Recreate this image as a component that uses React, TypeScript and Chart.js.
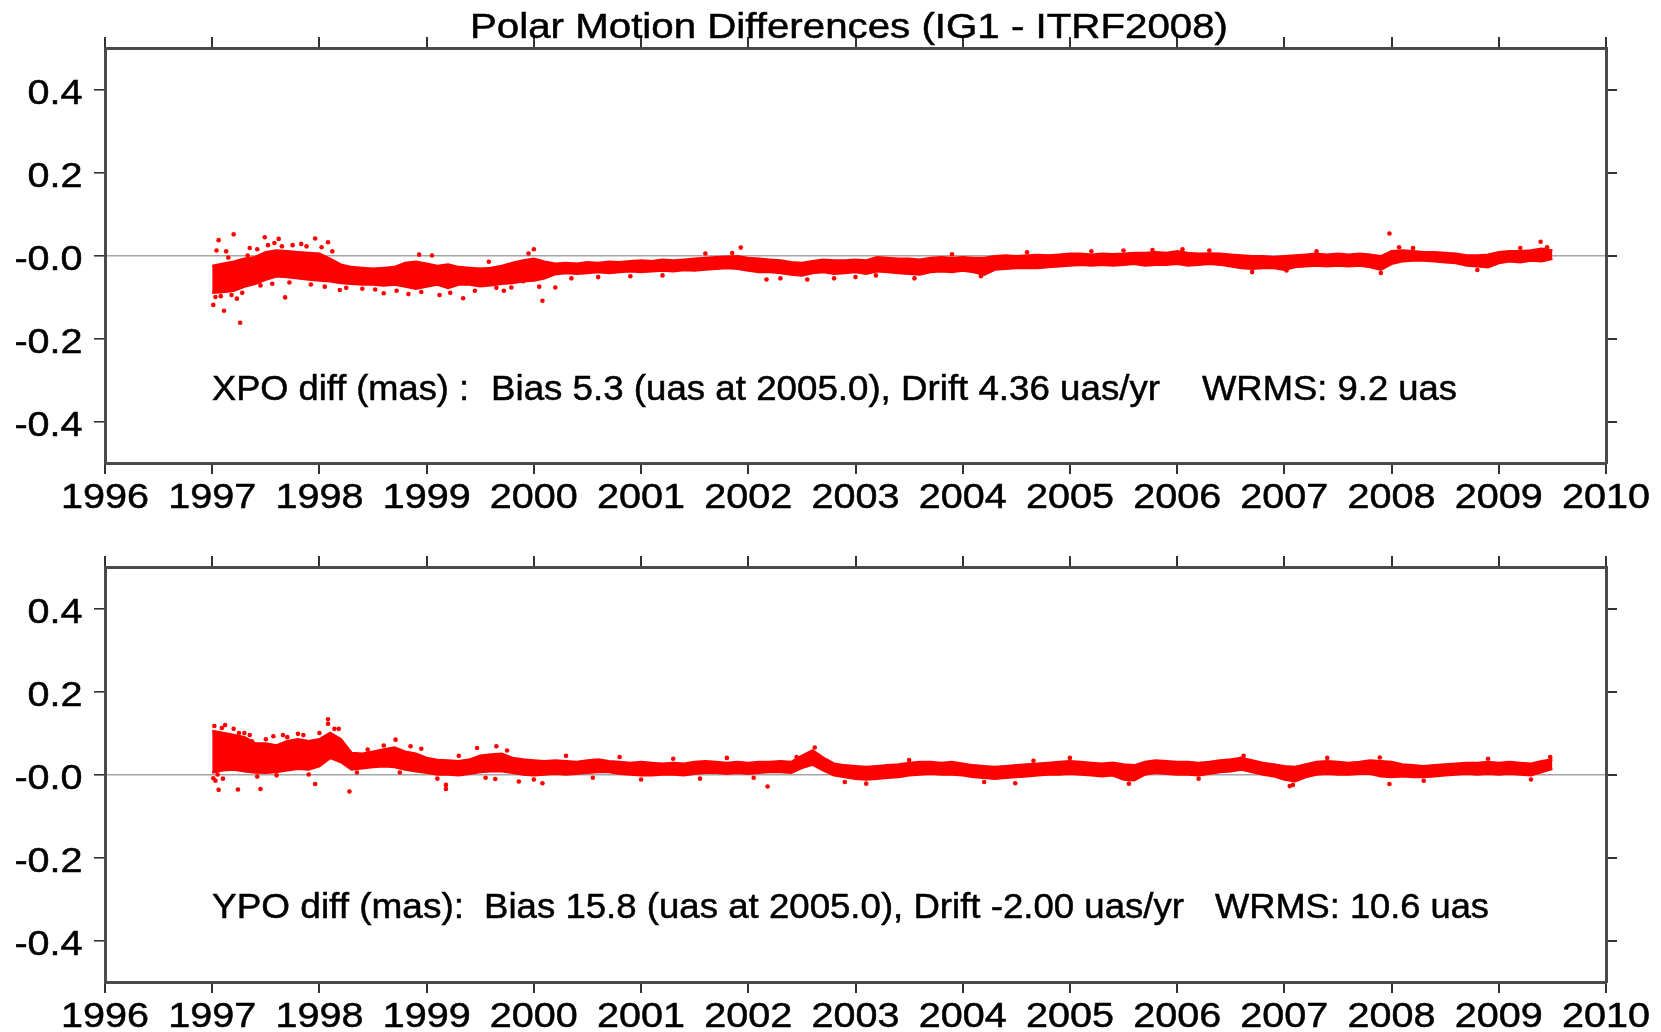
import React, { useEffect, useRef } from 'react';
import { Chart, registerables } from 'chart.js';

Chart.register(...registerables);

const TITLE = 'Polar Motion Differences (IG1 - ITRF2008)';
const X_TICKS = [1996, 1997, 1998, 1999, 2000, 2001, 2002, 2003, 2004, 2005, 2006, 2007, 2008, 2009, 2010];
const X_LABELS = ['1996', '1997', '1998', '1999', '2000', '2001', '2002', '2003', '2004', '2005', '2006', '2007', '2008', '2009', '2010'];
const Y_TICKS = [-0.4, -0.2, 0, 0.2, 0.4];
const Y_LABELS = ['-0.4', '-0.2', '-0.0', '0.2', '0.4'];

const TIMES = [
  1997.0, 1997.1, 1997.2, 1997.3, 1997.4, 1997.5, 1997.6, 1997.7, 1997.8, 1997.9,
  1998.0, 1998.1, 1998.2, 1998.3, 1998.4, 1998.5, 1998.6, 1998.7, 1998.8, 1998.9,
  1999.0, 1999.1, 1999.2, 1999.3, 1999.4, 1999.5, 1999.6, 1999.7, 1999.8, 1999.9,
  2000.0, 2000.1, 2000.2, 2000.3, 2000.4, 2000.5, 2000.6, 2000.7, 2000.8, 2000.9,
  2001.0, 2001.1, 2001.2, 2001.3, 2001.4, 2001.5, 2001.6, 2001.7, 2001.8, 2001.9,
  2002.0, 2002.1, 2002.2, 2002.3, 2002.4, 2002.5, 2002.6, 2002.7, 2002.8, 2002.9,
  2003.0, 2003.1, 2003.2, 2003.3, 2003.4, 2003.5, 2003.6, 2003.7, 2003.8, 2003.9,
  2004.0, 2004.1, 2004.2, 2004.3, 2004.4, 2004.5, 2004.6, 2004.7, 2004.8, 2004.9,
  2005.0, 2005.1, 2005.2, 2005.3, 2005.4, 2005.5, 2005.6, 2005.7, 2005.8, 2005.9,
  2006.0, 2006.1, 2006.2, 2006.3, 2006.4, 2006.5, 2006.6, 2006.7, 2006.8, 2006.9,
  2007.0, 2007.1, 2007.2, 2007.3, 2007.4, 2007.5, 2007.6, 2007.7, 2007.8, 2007.9,
  2008.0, 2008.1, 2008.2, 2008.3, 2008.4, 2008.5, 2008.6, 2008.7, 2008.8, 2008.9,
  2009.0, 2009.1, 2009.2, 2009.3, 2009.4, 2009.5,
];

// XPO difference (mas): lower / upper edge of the dense point cloud
const XPO_LO = [
  -0.090, -0.088, -0.085, -0.075, -0.068, -0.058, -0.050, -0.052, -0.055, -0.058,
  -0.060, -0.062, -0.066, -0.068, -0.070, -0.070, -0.072, -0.070, -0.075, -0.080,
  -0.075, -0.070, -0.078, -0.070, -0.070, -0.074, -0.072, -0.068, -0.066, -0.062,
  -0.060, -0.055, -0.045, -0.042, -0.044, -0.042, -0.040, -0.042, -0.040, -0.038,
  -0.040, -0.038, -0.036, -0.038, -0.035, -0.036, -0.034, -0.032, -0.030, -0.032,
  -0.036, -0.040, -0.040, -0.042, -0.046, -0.048, -0.042, -0.040, -0.044, -0.042,
  -0.040, -0.044, -0.038, -0.040, -0.042, -0.044, -0.046, -0.040, -0.038, -0.040,
  -0.036, -0.040, -0.046, -0.034, -0.032, -0.030, -0.030, -0.030, -0.028, -0.026,
  -0.024, -0.022, -0.024, -0.022, -0.024, -0.022, -0.020, -0.024, -0.022, -0.022,
  -0.020, -0.024, -0.022, -0.020, -0.022, -0.026, -0.030, -0.032, -0.030, -0.030,
  -0.034, -0.028, -0.026, -0.024, -0.026, -0.024, -0.026, -0.024, -0.028, -0.034,
  -0.020, -0.014, -0.012, -0.012, -0.014, -0.016, -0.018, -0.024, -0.026, -0.028,
  -0.018, -0.014, -0.016, -0.012, -0.014, -0.008,
];
const XPO_HI = [
  -0.025, -0.020, -0.015, -0.008, -0.004, 0.008, 0.012, 0.010, 0.008, 0.006,
  0.004, -0.008, -0.022, -0.028, -0.030, -0.032, -0.030, -0.028, -0.018, -0.015,
  -0.020, -0.025, -0.022, -0.028, -0.030, -0.032, -0.030, -0.025, -0.018, -0.012,
  -0.008, -0.015, -0.020, -0.018, -0.020, -0.016, -0.018, -0.015, -0.016, -0.014,
  -0.012, -0.014, -0.010, -0.012, -0.010, -0.008, -0.006, -0.004, -0.003, -0.002,
  -0.006, -0.008, -0.010, -0.012, -0.016, -0.018, -0.014, -0.010, -0.012, -0.012,
  -0.010, -0.012, -0.004, -0.006, -0.008, -0.008, -0.010, -0.006, -0.004, -0.006,
  -0.004, -0.006, -0.006, -0.002, 0.000, -0.002, 0.000, 0.001, 0.000, 0.002,
  0.004, 0.004, 0.002, 0.004, 0.003, 0.004, 0.006, 0.006, 0.008, 0.006,
  0.010, 0.006, 0.004, 0.005, 0.004, 0.002, 0.000, -0.002, -0.002, -0.004,
  -0.002, 0.000, 0.002, 0.004, 0.002, 0.004, 0.002, 0.004, 0.002, -0.002,
  0.010, 0.012, 0.010, 0.008, 0.008, 0.006, 0.004, 0.000, 0.000, 0.002,
  0.008, 0.010, 0.010, 0.012, 0.016, 0.012,
];
// scattered XPO points away from the dense band
const XPO_OUT_T = [
  1997.01, 1997.11, 1997.26, 1997.06, 1997.20, 1997.23, 1997.68, 1997.56, 1997.49, 1997.62,
  1997.96, 1998.08, 1998.19, 1998.60, 1998.83, 1999.12, 1999.34, 1999.65, 1999.79, 2000.08,
  2000.20, 2000.00, 1998.93, 2001.93, 2002.17, 1999.90, 2003.19, 2004.17, 2007.98, 2009.39,
  2005.77, 2006.05, 2008.07, 2007.02, 1997.04, 1997.15, 1997.35, 1997.75, 1997.88, 1998.02,
  1997.03, 1997.08, 1997.13, 1997.18, 1997.28, 1997.33, 1997.42, 1997.45, 1997.52, 1997.58,
  1997.65, 1997.72, 1997.83, 1997.92, 1998.05, 1998.12, 1998.25, 1998.40, 1998.52, 1998.72,
  1998.95, 1999.05, 1999.22, 1999.45, 1999.58, 1999.72, 1999.95, 2000.05, 2000.35, 2000.60,
  2000.90, 2001.20, 2001.60, 2001.85, 2002.30, 2002.55, 2002.80, 2003.00, 2003.55, 2003.90,
  2004.60, 2005.20, 2005.50, 2006.30, 2006.70, 2007.30, 2007.90, 2008.20, 2008.80, 2009.20,
  2009.45,
];
const XPO_OUT_V = [
  -0.119, -0.133, -0.162, 0.037, 0.051, -0.104, -0.101, -0.068, 0.044, 0.040,
  0.041, 0.032, -0.083, -0.091, -0.093, -0.095, -0.103, -0.078, -0.077, -0.109,
  -0.077, 0.015, 0.002, 0.019, -0.058, -0.062, -0.048, -0.050, 0.053, 0.033,
  0.013, 0.015, 0.020, -0.036, 0.012, -0.005, 0.018, 0.025, 0.022, 0.020,
  -0.100, -0.098, 0.010, -0.095, -0.090, 0.000, 0.015, -0.072, 0.025, 0.030,
  0.022, -0.065, 0.028, -0.070, -0.075, 0.010, -0.078, -0.080, -0.082, -0.085,
  -0.088, 0.000, -0.090, -0.085, -0.015, -0.085, 0.005, -0.075, -0.055, -0.052,
  -0.050, -0.048, 0.005, 0.006, -0.055, -0.058, -0.055, -0.052, -0.055, 0.003,
  0.008, 0.010, 0.012, 0.012, -0.040, 0.010, -0.042, 0.018, -0.035, 0.018,
  0.020,
];

// YPO difference (mas): lower / upper edge of the dense point cloud
const YPO_LO = [
  0.005, 0.010, 0.012, 0.008, 0.005, 0.004, 0.006, 0.010, 0.014, 0.012,
  0.020, 0.040, 0.030, 0.012, 0.015, 0.018, 0.020, 0.018, 0.012, 0.008,
  0.004, 0.000, 0.000, -0.002, 0.002, 0.006, 0.008, 0.008, 0.004, 0.000,
  -0.002, 0.000, 0.002, 0.000, 0.002, 0.004, 0.006, 0.006, 0.002, 0.000,
  -0.002, -0.002, 0.000, 0.000, -0.002, 0.002, 0.004, 0.004, 0.002, 0.004,
  0.002, 0.004, 0.006, 0.006, 0.004, 0.016, 0.024, 0.010, -0.002, -0.006,
  -0.010, -0.012, -0.010, -0.008, -0.006, -0.002, 0.000, 0.002, 0.000, 0.000,
  -0.002, -0.006, -0.008, -0.010, -0.008, -0.006, -0.004, -0.002, 0.000, 0.000,
  0.002, 0.000, -0.002, -0.004, -0.002, -0.012, -0.014, 0.000, 0.004, 0.002,
  0.000, 0.000, -0.002, 0.002, 0.006, 0.008, 0.012, 0.006, 0.000, -0.004,
  -0.012, -0.016, -0.006, 0.000, 0.002, 0.000, 0.000, 0.002, 0.002, -0.004,
  -0.006, -0.004, -0.006, -0.006, -0.004, -0.002, 0.000, 0.002, 0.000, 0.002,
  0.000, 0.002, 0.000, -0.002, 0.006, 0.014,
];
const YPO_HI = [
  0.105, 0.100, 0.095, 0.090, 0.075, 0.075, 0.070, 0.080, 0.085, 0.080,
  0.085, 0.100, 0.085, 0.052, 0.050, 0.055, 0.060, 0.065, 0.055, 0.050,
  0.040, 0.035, 0.034, 0.032, 0.036, 0.045, 0.048, 0.050, 0.040, 0.036,
  0.034, 0.032, 0.034, 0.032, 0.030, 0.034, 0.036, 0.032, 0.030, 0.028,
  0.030, 0.028, 0.026, 0.028, 0.026, 0.030, 0.032, 0.030, 0.028, 0.030,
  0.028, 0.030, 0.030, 0.032, 0.030, 0.045, 0.058, 0.040, 0.026, 0.022,
  0.020, 0.018, 0.020, 0.022, 0.024, 0.028, 0.030, 0.030, 0.028, 0.030,
  0.026, 0.022, 0.020, 0.018, 0.020, 0.022, 0.024, 0.026, 0.028, 0.030,
  0.032, 0.030, 0.028, 0.026, 0.028, 0.024, 0.022, 0.030, 0.034, 0.032,
  0.030, 0.030, 0.028, 0.030, 0.034, 0.036, 0.040, 0.034, 0.028, 0.024,
  0.020, 0.018, 0.024, 0.030, 0.032, 0.030, 0.028, 0.030, 0.034, 0.032,
  0.030, 0.024, 0.022, 0.020, 0.022, 0.024, 0.026, 0.028, 0.028, 0.030,
  0.028, 0.030, 0.028, 0.026, 0.032, 0.036,
];
// scattered YPO points away from the dense band
const YPO_OUT_T = [
  1997.06, 1997.01, 1997.24, 1997.45, 1997.96, 1998.28, 1999.18, 1999.18, 1997.02, 1997.12,
  1997.25, 1997.37, 1997.57, 1998.08, 1998.08, 1998.71, 1998.85, 1999.47, 1999.65, 2002.18,
  1999.64, 2000.08, 1999.86, 2007.98, 2007.89, 2006.59, 2004.66, 2004.49, 2007.08, 1997.03,
  1997.09, 1997.30, 1997.66, 1997.80, 1998.14,
  1997.05, 1997.10, 1997.20, 1997.35, 1997.42, 1997.50, 1997.60, 1997.70, 1997.85, 1997.90,
  1998.00, 1998.18, 1998.35, 1998.45, 1998.60, 1998.75, 1998.95, 1999.10, 1999.30, 1999.55,
  1999.75, 2000.00, 2000.30, 2000.55, 2000.80, 2001.00, 2001.30, 2001.55, 2001.80, 2002.05,
  2002.45, 2002.62, 2002.90, 2003.10, 2003.50, 2004.20, 2005.00, 2005.55, 2006.20, 2006.62,
  2007.05, 2007.40, 2008.30, 2008.90, 2009.30, 2009.48,
];
const YPO_OUT_V = [
  -0.037, -0.009, -0.036, -0.035, -0.023, -0.041, -0.035, -0.025, 0.117, 0.119,
  0.100, 0.080, 0.092, 0.133, 0.122, 0.084, 0.068, 0.064, 0.068, -0.029,
  -0.011, -0.021, -0.017, -0.023, 0.041, 0.038, 0.033, -0.021, -0.025, -0.015,
  0.112, 0.100, 0.095, 0.098, 0.110,
  0.000, -0.010, 0.110, 0.095, -0.005, 0.085, -0.002, 0.090, 0.095, 0.000,
  0.100, 0.110, 0.005, 0.060, 0.070, 0.005, 0.062, -0.010, 0.045, -0.008,
  0.058, -0.012, 0.045, -0.008, 0.042, -0.012, 0.038, -0.010, 0.040, -0.008,
  0.042, 0.065, -0.018, -0.022, 0.035, -0.018, 0.040, -0.022, -0.010, 0.045,
  -0.028, 0.040, -0.015, 0.038, -0.012, 0.042,
];

const XPO_NOTE = ['XPO diff (mas) :', 'Bias 5.3 (uas at 2005.0), Drift 4.36 uas/yr', 'WRMS: 9.2 uas'];
const YPO_NOTE = ['YPO diff (mas):', 'Bias 15.8 (uas at 2005.0), Drift -2.00 uas/yr', 'WRMS: 10.6 uas'];

const RED = '#ff0000';
const FONT = 'Liberation Sans';
const FONT_SIZE = 35;
const STRETCH = 1.13;

type TextItem = { text: string; x0: number; x1: number; y: number };

function drawStretched(ctx: CanvasRenderingContext2D, text: string, x: number, y: number, align: CanvasTextAlign, sx: number) {
  ctx.save();
  ctx.translate(x, y);
  ctx.scale(sx, 1);
  ctx.textAlign = align;
  ctx.fillText(text, 0, 0);
  ctx.strokeText(text, 0, 0);
  ctx.restore();
}

function textPlugin(items: TextItem[]) {
  return {
    id: 'fittedTexts',
    afterDraw(chart: any) {
      const ctx = chart.ctx as CanvasRenderingContext2D;
      ctx.save();
      ctx.fillStyle = '#000';
      ctx.strokeStyle = '#000';
      ctx.lineWidth = 0.5;
      ctx.textBaseline = 'alphabetic';
      ctx.font = `${FONT_SIZE}px "${FONT}"`;
      // axis tick labels, placed at the scale's own tick positions
      const xs = chart.scales.x;
      const ys = chart.scales.y;
      X_TICKS.forEach((v, i) => drawStretched(ctx, X_LABELS[i], xs.getPixelForValue(v), xs.bottom - 5, 'center', STRETCH));
      Y_TICKS.forEach((v, i) => drawStretched(ctx, Y_LABELS[i], ys.right - 22.4, ys.getPixelForValue(v) + 14, 'right', STRETCH));
      // title and annotations fitted to their spans
      for (const it of items) {
        const w = ctx.measureText(it.text).width;
        drawStretched(ctx, it.text, it.x0, it.y, 'left', (it.x1 - it.x0) / w);
      }
      ctx.restore();
    },
  };
}

function buildConfig(lo: number[], hi: number[], outT: number[], outV: number[], texts: TextItem[]) {
  const frame = { display: true, color: '#4a4a4a', width: 3 };
  const xTicksSetter = (s: any) => {
    s.ticks = X_TICKS.map((v) => ({ value: v }));
  };
  const yTicksSetter = (s: any) => {
    s.ticks = Y_TICKS.map((v) => ({ value: v }));
  };
  const tickGrid = { drawOnChartArea: false, tickLength: 11, tickColor: '#333', lineWidth: 2 };
  return {
    type: 'line',
    data: {
      datasets: [
        {
          data: TIMES.map((t, i) => ({ x: t, y: lo[i] })),
          borderColor: RED,
          borderWidth: 2.5,
          pointRadius: 0,
          fill: false,
          tension: 0,
        },
        {
          data: TIMES.map((t, i) => ({ x: t, y: hi[i] })),
          borderColor: RED,
          borderWidth: 2.5,
          pointRadius: 0,
          backgroundColor: RED,
          fill: '-1',
          tension: 0,
        },
        {
          data: outT.map((t, i) => ({ x: t, y: outV[i] })),
          showLine: false,
          pointRadius: 2.3,
          pointBackgroundColor: RED,
          pointBorderWidth: 0,
          borderColor: RED,
          fill: false,
        },
      ],
    },
    options: {
      responsive: false,
      animation: false,
      events: [],
      layout: { padding: 0 },
      plugins: { legend: { display: false }, tooltip: { enabled: false }, title: { display: false } },
      scales: {
        x: {
          type: 'linear',
          position: 'bottom',
          min: 1996,
          max: 2010,
          afterBuildTicks: xTicksSetter,
          afterFit: (s: any) => { s.height = 50; },
          border: frame,
          grid: tickGrid,
          ticks: { display: false },
        },
        xTop: {
          type: 'linear',
          position: 'top',
          min: 1996,
          max: 2010,
          afterBuildTicks: xTicksSetter,
          afterFit: (s: any) => { s.height = 48; },
          border: frame,
          grid: tickGrid,
          ticks: { display: false },
        },
        y: {
          type: 'linear',
          position: 'left',
          min: -0.5,
          max: 0.5,
          afterBuildTicks: yTicksSetter,
          afterFit: (s: any) => { s.width = 105; },
          border: frame,
          grid: {
            drawOnChartArea: true,
            tickLength: 11,
            tickColor: '#333',
            lineWidth: 1.6,
            color: (c: any) => (c.tick && c.tick.value === 0 ? '#a6a6a6' : 'rgba(0,0,0,0)'),
          },
          ticks: { display: false },
        },
        yRight: {
          type: 'linear',
          position: 'right',
          min: -0.5,
          max: 0.5,
          afterBuildTicks: yTicksSetter,
          afterFit: (s: any) => { s.width = 55; },
          border: frame,
          grid: tickGrid,
          ticks: { display: false },
        },
      },
    },
    plugins: [textPlugin(texts)],
  } as any;
}

export default function App() {
  const topRef = useRef<HTMLCanvasElement | null>(null);
  const botRef = useRef<HTMLCanvasElement | null>(null);

  useEffect(() => {
    const topTexts: TextItem[] = [
      { text: TITLE, x0: 470, x1: 1228, y: 38 },
      { text: XPO_NOTE[0], x0: 212, x1: 469, y: 400 },
      { text: XPO_NOTE[1], x0: 491, x1: 1160, y: 400 },
      { text: XPO_NOTE[2], x0: 1202, x1: 1457, y: 400 },
    ];
    const botTexts: TextItem[] = [
      { text: YPO_NOTE[0], x0: 212, x1: 464, y: 399 },
      { text: YPO_NOTE[1], x0: 484, x1: 1184, y: 399 },
      { text: YPO_NOTE[2], x0: 1215, x1: 1489, y: 399 },
    ];
    const c1 = new Chart(topRef.current as HTMLCanvasElement, buildConfig(XPO_LO, XPO_HI, XPO_OUT_T, XPO_OUT_V, topTexts));
    const c2 = new Chart(botRef.current as HTMLCanvasElement, buildConfig(YPO_LO, YPO_HI, YPO_OUT_T, YPO_OUT_V, botTexts));
    return () => {
      c1.destroy();
      c2.destroy();
    };
  }, []);

  return (
    <div style={{ position: 'fixed', left: 0, top: 0, width: 1661, height: 1032, background: '#fff' }}>
      <div style={{ position: 'absolute', left: 0, top: 0, width: 1661, height: 513 }}>
        <canvas ref={topRef} width={1661} height={513} style={{ display: 'block' }} />
      </div>
      <div style={{ position: 'absolute', left: 0, top: 519, width: 1661, height: 513 }}>
        <canvas ref={botRef} width={1661} height={513} style={{ display: 'block' }} />
      </div>
    </div>
  );
}
